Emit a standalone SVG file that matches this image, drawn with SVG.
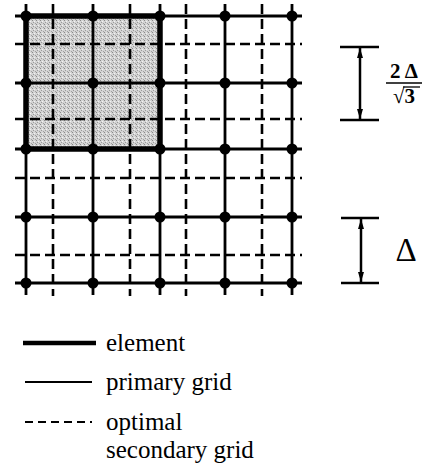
<svg xmlns="http://www.w3.org/2000/svg" width="437" height="469" viewBox="0 0 437 469">
<style>
.prim{stroke:#000;stroke-width:2.8;fill:none}
.sec{stroke:#000;stroke-width:2.6;stroke-dasharray:10 5;fill:none}
.elem{stroke:none;fill:url(#stipple)}
.dot{fill:#000}
.dim{stroke:#000;stroke-width:2.5;fill:none}
.arr{stroke:#000;stroke-width:2.5;fill:none;marker-start:url(#ah);marker-end:url(#ah)}
text{font-family:'Liberation Serif','Times New Roman',Times,'DejaVu Serif',serif;fill:#000}
</style>
<defs>
<pattern id="stipple" width="4" height="4" patternUnits="userSpaceOnUse">
<rect width="4" height="4" fill="#d4d4d4"/>
<rect x="0" y="0" width="1" height="1" fill="#8a8a8a"/>
<rect x="2" y="1" width="1" height="1" fill="#f2f2f2"/>
<rect x="1" y="2" width="1" height="1" fill="#9a9a9a"/>
<rect x="3" y="3" width="1" height="1" fill="#a0a0a0"/>
</pattern>
<marker id="ah" viewBox="0 0 10 6" refX="10" refY="3" markerWidth="10" markerHeight="6" markerUnits="userSpaceOnUse" orient="auto-start-reverse">
<path d="M0,0 L10,3 L0,6 Z" fill="#000"/>
</marker>
</defs>
<g id="element">
<rect class="elem" x="26" y="16" width="134" height="133"/>
</g>
<g id="secondary-grid">
<line class="sec" x1="53" y1="4" x2="53" y2="296"/>
<line class="sec" x1="130" y1="4" x2="130" y2="296"/>
<line class="sec" x1="186" y1="4" x2="186" y2="296"/>
<line class="sec" x1="262" y1="4" x2="262" y2="296"/>
<line class="sec" x1="15" y1="44" x2="302" y2="44"/>
<line class="sec" x1="15" y1="119" x2="302" y2="119"/>
<line class="sec" x1="15" y1="178" x2="302" y2="178"/>
<line class="sec" x1="15" y1="255" x2="302" y2="255"/>
</g>
<g id="primary-grid">
<line class="prim" x1="26" y1="4" x2="26" y2="295"/>
<line class="prim" x1="93" y1="4" x2="93" y2="295"/>
<line class="prim" x1="160" y1="4" x2="160" y2="295"/>
<line class="prim" x1="225" y1="4" x2="225" y2="295"/>
<line class="prim" x1="292" y1="4" x2="292" y2="295"/>
<line class="prim" x1="15" y1="16" x2="302" y2="16"/>
<line class="prim" x1="15" y1="83" x2="302" y2="83"/>
<line class="prim" x1="15" y1="149" x2="302" y2="149"/>
<line class="prim" x1="15" y1="217" x2="302" y2="217"/>
<line class="prim" x1="15" y1="283" x2="302" y2="283"/>
</g>
<g id="element-border">
<rect x="26" y="16" width="134" height="133" fill="none" stroke="#000" stroke-width="5.5"/>
</g>
<g id="nodes">
<circle class="dot" cx="26" cy="16" r="5.5"/><circle class="dot" cx="93" cy="16" r="5.5"/><circle class="dot" cx="160" cy="16" r="5.5"/><circle class="dot" cx="225" cy="16" r="5.5"/><circle class="dot" cx="292" cy="16" r="5.5"/>
<circle class="dot" cx="26" cy="83" r="5.5"/><circle class="dot" cx="93" cy="83" r="5.5"/><circle class="dot" cx="160" cy="83" r="5.5"/><circle class="dot" cx="225" cy="83" r="5.5"/><circle class="dot" cx="292" cy="83" r="5.5"/>
<circle class="dot" cx="26" cy="149" r="5.5"/><circle class="dot" cx="93" cy="149" r="5.5"/><circle class="dot" cx="160" cy="149" r="5.5"/><circle class="dot" cx="225" cy="149" r="5.5"/><circle class="dot" cx="292" cy="149" r="5.5"/>
<circle class="dot" cx="26" cy="217" r="5.5"/><circle class="dot" cx="93" cy="217" r="5.5"/><circle class="dot" cx="160" cy="217" r="5.5"/><circle class="dot" cx="225" cy="217" r="5.5"/><circle class="dot" cx="292" cy="217" r="5.5"/>
<circle class="dot" cx="26" cy="283" r="5.5"/><circle class="dot" cx="93" cy="283" r="5.5"/><circle class="dot" cx="160" cy="283" r="5.5"/><circle class="dot" cx="225" cy="283" r="5.5"/><circle class="dot" cx="292" cy="283" r="5.5"/>
</g>
<g id="dim-secondary">
<line class="dim" x1="340" y1="47" x2="379" y2="47"/>
<line class="dim" x1="340" y1="120" x2="379" y2="120"/>
<line class="arr" x1="360" y1="48" x2="360" y2="119"/>
<text x="404" y="78" font-size="21" font-weight="bold" text-anchor="middle">2 Δ</text>
<line x1="386" y1="83" x2="422" y2="83" stroke="#000" stroke-width="1.5"/>
<text x="404" y="103" font-size="21" font-weight="bold" text-anchor="middle">√3</text>
<line x1="403" y1="87" x2="420" y2="87" stroke="#000" stroke-width="1.3"/>
</g>
<g id="dim-primary">
<line class="dim" x1="341" y1="218" x2="379" y2="218"/>
<line class="dim" x1="341" y1="283" x2="379" y2="283"/>
<line class="arr" x1="361" y1="219" x2="361" y2="282"/>
<text x="406" y="261" font-size="33" text-anchor="middle">Δ</text>
</g>
<g id="legend">
<line x1="23" y1="343" x2="96" y2="343" stroke="#000" stroke-width="4.5"/>
<text x="106" y="351" font-size="25">element</text>
<line x1="25" y1="382" x2="92" y2="382" stroke="#000" stroke-width="2"/>
<text x="106" y="390" font-size="25">primary grid</text>
<line x1="25" y1="422" x2="92" y2="422" stroke="#000" stroke-width="2" stroke-dasharray="8 5"/>
<text x="106" y="430" font-size="25">optimal</text>
<text x="106" y="458" font-size="25">secondary grid</text>
</g>
</svg>
